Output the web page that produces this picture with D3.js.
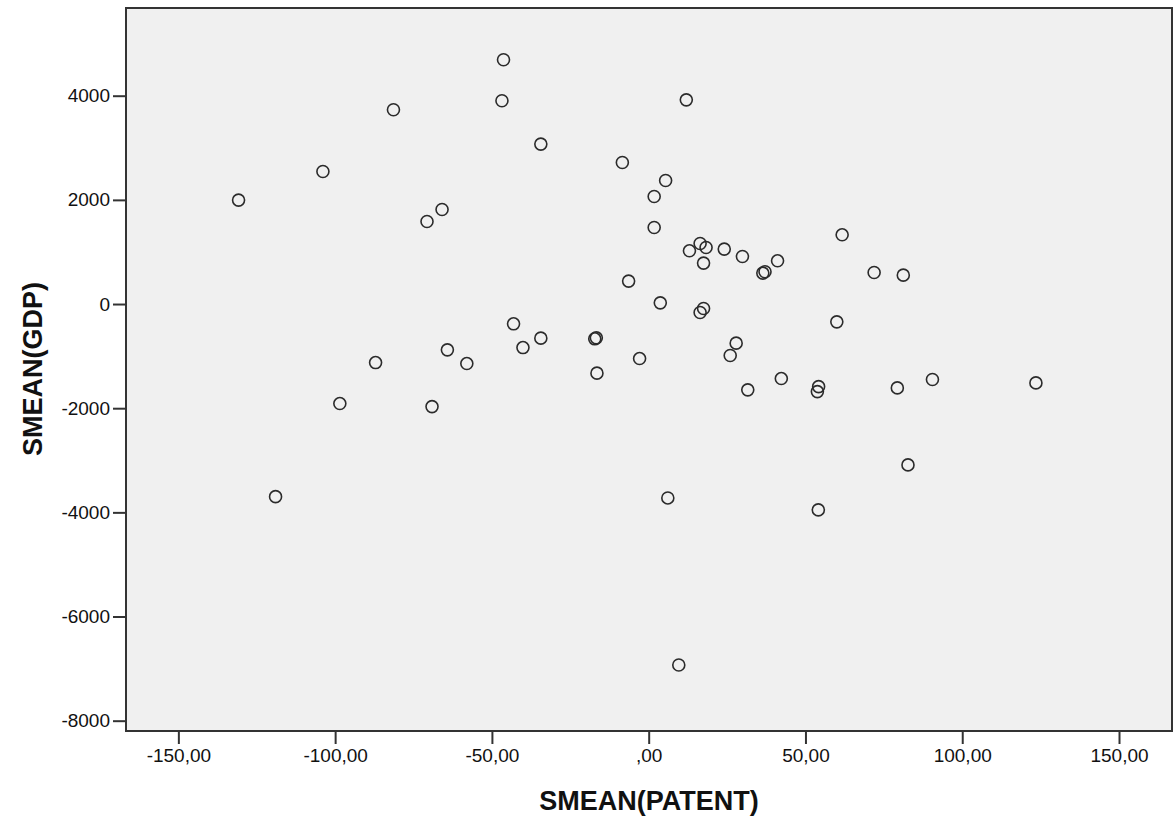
<!DOCTYPE html>
<html>
<head>
<meta charset="utf-8">
<script src="https://cdn.jsdelivr.net/npm/d3@7"></script>
<style>
  html, body { margin: 0; padding: 0; background: #fff; overflow: hidden; }
  #chart { width: 100vw; height: 100vh; }
  svg { display: block; width: 100%; height: 100%; font-family: "Liberation Sans", Arial, sans-serif; }
  .axis text { font-size: 19px; fill: #111; }
  .axis path, .axis line { stroke: #333; stroke-width: 2px; }
  .axis-title { font-size: 27px; font-weight: bold; fill: #111; }
  .dot { fill: none; stroke: #2b2b2b; stroke-width: 1.6px; }
</style>
</head>
<body>
<div id="chart"></div>
<script>
// SMEAN(PATENT) on x, SMEAN(GDP) on y, one entry per case
const patent = [
  -46.3, -46.8, 12.0, -81.4, -34.4, -103.9, -8.4, -130.8, 5.4, 1.75,
  -65.9, -70.7, 1.75, 16.4, 13.0, 18.3, 24.1, 29.9, 17.5, 41.1,
  61.7, 36.4, 37.1, 71.9, 81.2, -6.4, 3.7, 17.5, 16.4, 60.0,
  -43.1, -34.4, -40.1, -64.2, -58.0, -87.1, -17.2, -16.7, -16.5, -2.9,
  27.9, 26.0, 42.3, 31.6, 54.2, 53.8, 79.3, 90.5, 123.5, -98.5,
  -69.1, 82.7, -119.0, 6.1, 54.1, 9.6
];
const gdp = [
  4691, 3903, 3920, 3730, 3071, 2545, 2718, 1996, 2372, 2065,
  1815, 1585, 1469, 1162, 1022, 1085, 1055, 912, 786, 830,
  1329, 594, 619, 605, 555, 440, 23, -86, -163, -342,
  -380, -655, -836, -880, -1143, -1124, -668, -649, -1327, -1047,
  -751, -989, -1431, -1648, -1585, -1681, -1610, -1450, -1514, -1911,
  -1969, -3089, -3698, -3723, -3953, -6930
];

const xTicks = [-150, -100, -50, 0, 50, 100, 150];
const yTicks = [4000, 2000, 0, -2000, -4000, -6000, -8000];

const width = 1176;
const height = 826;
const margin = { top: 8, right: 4, bottom: 95, left: 126 };
const innerWidth = width - margin.left - margin.right;
const innerHeight = height - margin.top - margin.bottom;

const svg = d3.select("#chart")
  .append("svg")
  .attr("viewBox", `0 0 ${width} ${height}`);

const g = svg.append("g")
  .attr("transform", `translate(${margin.left},${margin.top})`);

const xScale = d3.scaleLinear()
  .domain([-166.7, 166.9])
  .range([0, innerWidth]);

const yScale = d3.scaleLinear()
  .domain([-8198, 5684])
  .range([innerHeight, 0]);

g.append("rect")
  .attr("width", innerWidth)
  .attr("height", innerHeight)
  .attr("fill", "#f0f0f0");

// SPSS style: comma decimal, no leading zero (",00")
const fmtX = v => {
  const s = d3.format(".2f")(Math.abs(v)).replace(".", ",").replace(/^0,/, ",");
  return (v < 0 ? "-" : "") + s;
};

g.append("g")
  .attr("class", "axis")
  .attr("transform", `translate(0,${innerHeight})`)
  .call(d3.axisBottom(xScale).tickValues(xTicks).tickSize(13).tickPadding(5).tickFormat(fmtX))
  .call(a => a.select(".domain").remove());

g.append("g")
  .attr("class", "axis")
  .call(d3.axisLeft(yScale).tickValues(yTicks).tickSize(13).tickPadding(3).tickFormat(d => String(d)))
  .call(a => a.select(".domain").remove());

g.append("rect")
  .attr("width", innerWidth)
  .attr("height", innerHeight)
  .attr("fill", "none")
  .attr("stroke", "#333")
  .attr("stroke-width", 2);

g.selectAll(".dot")
  .data(d3.range(patent.length))
  .join("circle")
  .attr("class", "dot")
  .attr("cx", i => xScale(patent[i]))
  .attr("cy", i => yScale(gdp[i]))
  .attr("r", 6);

svg.append("text")
  .attr("class", "axis-title")
  .attr("x", margin.left + innerWidth / 2)
  .attr("y", 810)
  .attr("text-anchor", "middle")
  .text("SMEAN(PATENT)");

svg.append("text")
  .attr("class", "axis-title")
  .attr("transform", "translate(42,369) rotate(-90)")
  .attr("text-anchor", "middle")
  .text("SMEAN(GDP)");
</script>
</body>
</html>
